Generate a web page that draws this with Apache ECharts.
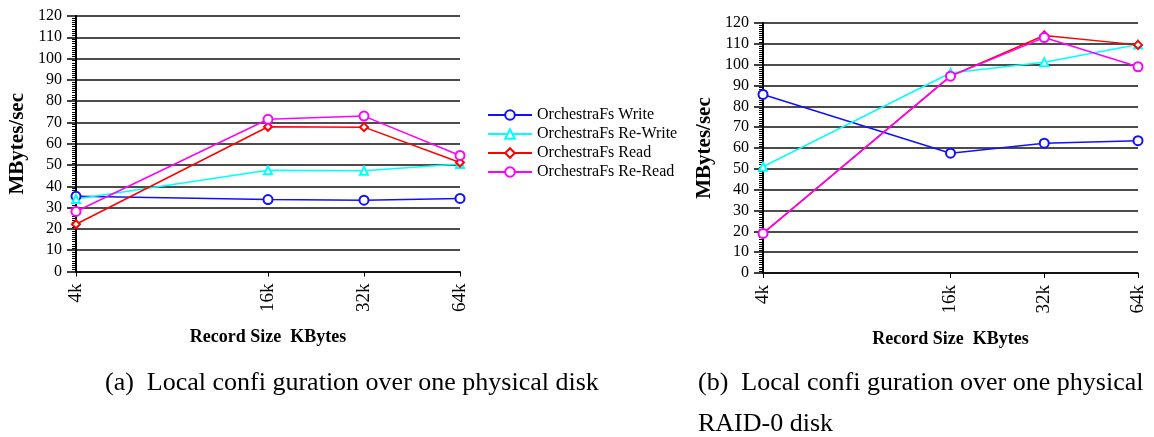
<!DOCTYPE html>
<html>
<head>
<meta charset="utf-8">
<script src="https://cdn.jsdelivr.net/npm/echarts@6/dist/echarts.min.js"></script>
<style>
  html, body { margin: 0; padding: 0; background: #fff; }
  #chart { width: 1154px; height: 437px; }
</style>
</head>
<body>
<div id="chart"></div>
<script>
// record sizes (KBytes) on a log2 axis
const sizes = [4, 16, 32, 64];
const seriesNames = ['OrchestraFs Write', 'OrchestraFs Re-Write', 'OrchestraFs Read', 'OrchestraFs Re-Read'];

// (a) one physical disk
const diskWrite = [35.3, 33.8, 33.5, 34.3];
const diskReWrite = [34, 47.5, 47.3, 50.5];
const diskRead = [22.2, 68, 67.8, 51.2];
const diskReRead = [28.2, 71.5, 73, 54.5];

// (b) one physical RAID-0 disk
const raidWrite = [85.7, 57.5, 62.3, 63.5];
const raidReWrite = [51, 96, 101.2, 109.7];
const raidRead = [19, 94.5, 114, 109.5];
const raidReRead = [19, 94.5, 113, 99];

const yTicks = [0, 120, 10];

const serif = 'Liberation Serif';
const colors = ['#1010ff', '#00ffff', '#ff0000', '#ff00ff'];
const symbols = ['emptyCircle', 'emptyTriangle', 'emptyDiamond', 'emptyCircle'];
const symbolSizes = [9, 8, 8, 9];

const pairs = vals => sizes.map((s, i) => [s, vals[i]]);

const makeX = (gridIndex) => ({
  type: 'log',
  logBase: 2,
  gridIndex,
  min: 4,
  max: 64,
  name: 'Record Size  KBytes',
  nameLocation: 'middle',
  nameGap: 57,
  nameTextStyle: {fontFamily: serif, fontSize: 18, fontWeight: 'bold', color: '#000'},
  axisLine: {show: true, lineStyle: {color: '#000', width: 1.5}},
  axisTick: {show: true, length: 5, lineStyle: {color: '#000', width: 1}, customValues: sizes},
  axisLabel: {
    customValues: sizes,
    rotate: 90,
    margin: 12,
    fontFamily: serif,
    fontSize: 19,
    color: '#000',
    formatter: v => v + 'k'
  },
  splitLine: {show: false},
  minorTick: {show: false}
})

const makeY = (gridIndex) => ({
  type: 'value',
  gridIndex,
  min: yTicks[0],
  max: yTicks[1],
  interval: yTicks[2],
  name: 'MBytes/sec',
  nameLocation: 'middle',
  nameGap: 48,
  nameTextStyle: {fontFamily: serif, fontSize: 21, fontWeight: 'bold', color: '#000'},
  axisLine: {show: true, lineStyle: {color: '#000', width: 2}},
  axisTick: {show: true, length: 9, lineStyle: {color: '#000', width: 1.5}},
  minorTick: {show: true, splitNumber: 10, length: 4, lineStyle: {color: '#000', width: 1}},
  axisLabel: {margin: 14, fontFamily: serif, fontSize: 16, color: '#000'},
  splitLine: {show: true, lineStyle: {color: '#111', width: 1.5}}
})

const makeSeries = (vals, idx, axisIndex) => ({
  name: seriesNames[idx],
  type: 'line',
  xAxisIndex: axisIndex,
  yAxisIndex: axisIndex,
  data: pairs(vals),
  symbol: symbols[idx],
  symbolSize: symbolSizes[idx],
  color: colors[idx],
  lineStyle: {color: colors[idx], width: 1.5},
  itemStyle: {color: colors[idx], borderWidth: 1.5},
  emphasis: {disabled: true},
  animation: false
})

const captionStyle = {fontFamily: serif, fontSize: 26, fontWeight: 'normal', color: '#000'};

const chart = echarts.init(document.getElementById('chart'), null, {renderer: 'canvas'});
const option = {
  backgroundColor: '#fff',
  animation: false,
  title: [
    {text: '(a)  Local confi guration over one physical disk', left: 105, top: 370, padding: 0, textStyle: captionStyle},
    {text: '(b)  Local confi guration over one physical', left: 698, top: 370, padding: 0, textStyle: captionStyle},
    {text: 'RAID-0 disk', left: 698, top: 411, padding: 0, textStyle: captionStyle}
  ],
  legend: {
    data: seriesNames,
    orient: 'vertical',
    left: 487,
    top: 107,
    padding: 0,
    itemWidth: 44,
    itemHeight: 12,
    itemGap: 3,
    textStyle: {fontFamily: serif, fontSize: 16, color: '#000'}
  },
  grid: [
    {left: 76, top: 16, width: 384, height: 255.5},
    {left: 763, top: 23, width: 375, height: 250}
  ],
  xAxis: [makeX(0), makeX(1)],
  yAxis: [makeY(0), makeY(1)],
  series: [
    makeSeries(diskWrite, 0, 0),
    makeSeries(diskReWrite, 1, 0),
    makeSeries(diskRead, 2, 0),
    makeSeries(diskReRead, 3, 0),
    makeSeries(raidWrite, 0, 1),
    makeSeries(raidReWrite, 1, 1),
    makeSeries(raidRead, 2, 1),
    makeSeries(raidReRead, 3, 1)
  ]
};
chart.setOption(option);
</script>
</body>
</html>
